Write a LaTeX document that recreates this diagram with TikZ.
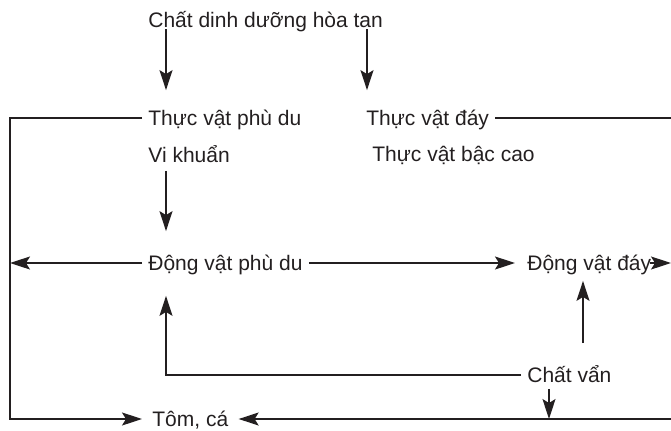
\documentclass[tikz,border=0pt]{standalone}
\usepackage{fontspec}
\setmainfont{Liberation Sans}
\usepackage{tikz}
\usetikzlibrary{arrows.meta, positioning, calc}
\definecolor{inkdark}{HTML}{231F20}

\begin{document}
\begin{tikzpicture}[
    x=0.5pt, y=-0.5pt,
    lbl/.style={font=\fontsize{10.5}{12.6}\selectfont, inner xsep=3pt, inner ysep=0pt,
        text height=7.5pt, text depth=0pt, anchor=west, text=inkdark},
    flow/.style={-{Stealth[length=10pt, width=6.5pt, inset=2pt]}, line width=0.65pt, inkdark},
    link/.style={line width=0.65pt, inkdark},
]
    \useasboundingbox (0,0) rectangle (671,430);

    % labels
    \node[lbl] (nutri) at (142,19.5) {Chất dinh dưỡng hòa tan};
    \node[lbl] (phyto) at (142,118) {Thực vật phù du};
    \node[lbl] (benthicp) at (360,118) {Thực vật đáy};
    \node[lbl] (bact) at (142,155) {Vi khuẩn};
    \node[lbl] (macro) at (366,154) {Thực vật bậc cao};
    \node[lbl] (zoo) at (142,263) {Động vật phù du};
    \node[lbl] (benthica) at (521,263) {Động vật đáy};
    \node[lbl] (detritus) at (521,375) {Chất vẩn};
    \node[lbl] (fish) at (146,419) {Tôm, cá};

    % frame corners (right ones sit on the page edge)
    \coordinate (lb) at (10,419);
    \coordinate (rt) at (671,118);
    \coordinate (rm) at (671,263);
    \coordinate (rb) at (671,419);
    \coordinate (bpin) at ($(benthicp.north west)+(7,-20)$);

    % nutrients
    \draw[flow] ($(nutri.south west)+(24,2)$) -- ($(phyto.north west)+(24,-20)$);
    \draw[flow] ([yshift=-1pt]bpin |- nutri.south) -- (bpin);

    % bacteria
    \draw[flow] ($(bact.south west)+(24,8)$) -- ($(zoo.north west)+(24,-24)$);

    % left loop
    \draw[flow, shorten >=2pt] (phyto.west) -| (lb) -- (fish.west);
    \draw[flow] (zoo.west) -- (zoo.west -| lb);

    % zooplankton
    \draw[flow, shorten >=3pt] (zoo.east) -- (benthica.west);
    \draw[flow] ([xshift=-4pt]benthica.east) -- (rm);

    % right side
    \draw[link] (benthicp.east) -- (rt);
    \draw[flow, shorten >=2pt] (rb) -- (fish.east);

    % detritus
    \draw[flow] (detritus.west) -| ($(zoo.south west)+(24,25)$);
    \draw[flow] ($(detritus.north west)+(62,-24)$) -- ($(benthica.south west)+(62,10)$);
    \draw[flow] ($(detritus.south west)+(28,6)$) coordinate (dd) -- (dd |- rb);
\end{tikzpicture}
\end{document}
